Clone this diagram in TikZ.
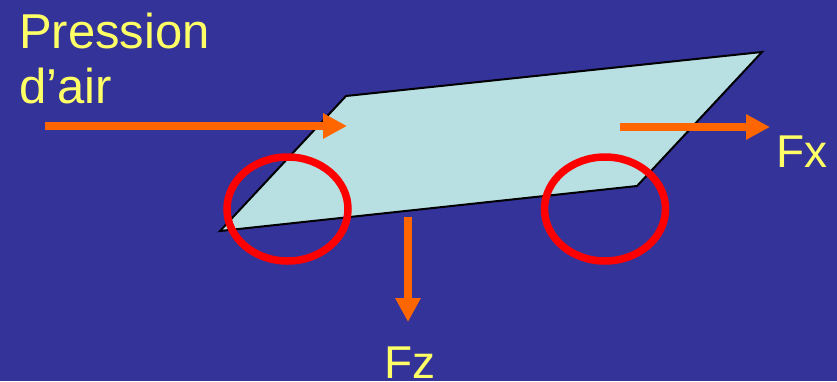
\documentclass[tikz,border=0pt]{standalone}
\usepackage{fontspec}
\setmainfont{Liberation Sans}
\usetikzlibrary{arrows.meta,shapes.geometric}
\definecolor{bgblue}{RGB}{51,51,153}
\definecolor{plate}{RGB}{184,224,226}
\definecolor{forange}{RGB}{255,102,0}
\definecolor{lblyellow}{RGB}{255,255,102}
\tikzset{
  force/.style={draw=forange,line width=8pt,-{Triangle[length=24pt,width=24pt]}},
  ring/.style={draw=red,line width=7.5pt,ellipse,inner sep=0pt,minimum width=121pt,minimum height=104pt},
  lbl/.style={text=lblyellow,inner sep=0pt,anchor=base west},
}
\begin{document}
\begin{tikzpicture}[x=1pt,y=-1pt]
\fill[bgblue] (0,0) rectangle (837,381);
\useasboundingbox (0,0) rectangle (837,381);
% plate
\coordinate (bl) at (220,231);
\coordinate (tl) at (346,96);
\coordinate (tr) at (762,52);
\coordinate (br) at (637,186);
\draw[fill=plate,line width=2pt,line join=miter] (bl) -- (tl) -- (tr) -- (br) -- cycle;
% labels
\node[lbl,font=\fontsize{49}{55}\selectfont] (p1) at (19,48) {Pression};
\node[lbl,font=\fontsize{49}{55}\selectfont] (p2) at (19,103) {d’air};
\node[lbl,font=\fontsize{46}{55}\selectfont] (fx) at (776,167) {Fx};
\node[lbl,font=\fontsize{46}{55}\selectfont] (fz) at (384,378) {Fz};
% forces
\coordinate (a0) at (45,126);
\coordinate (a1) at (347,126);
\coordinate (x0) at (620,127);
\coordinate (x1) at (770,127);
\coordinate (z0) at (408,217);
\coordinate (z1) at (408,322);
\draw[force] (a0) -- (a1);
\draw[force] (x0) -- (x1);
\draw[force] (z0) -- (z1);
% rings
\node[ring] (r1) at (287.5,209) {};
\node[ring] (r2) at (605,209) {};
\end{tikzpicture}
\end{document}
